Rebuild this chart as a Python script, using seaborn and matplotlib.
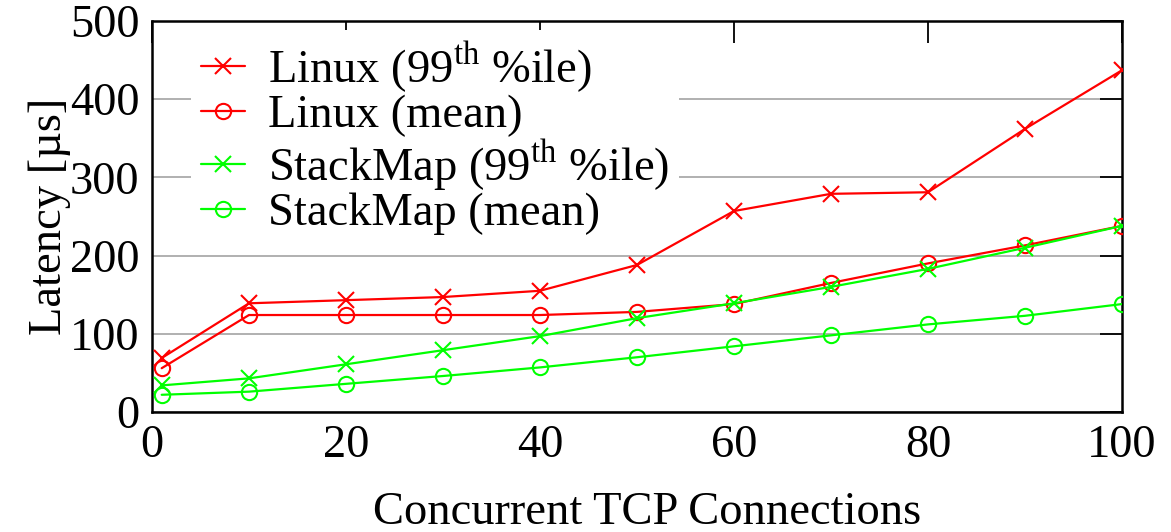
"""
Latency vs. concurrent TCP connections, Linux vs. StackMap.
"""

import matplotlib
matplotlib.use("Agg")
import matplotlib.pyplot as plt
import pandas as pd
import seaborn as sns

connections = [1, 10, 20, 30, 40, 50, 60, 70, 80, 90, 100]

linux_p99 = [69, 139, 143, 147, 155, 188, 257, 279, 281, 362, 437]
linux_mean = [56, 124, 124, 124, 124, 128, 138, 165, 190, 213, 238]
stackmap_p99 = [34, 43, 61, 79, 97, 120, 139, 160, 183, 210, 238]
stackmap_mean = [22, 26, 36, 46, 57, 70, 84, 98, 112, 123, 138]

series_labels = [
    r"Linux (99$^{\mathrm{th}}$ %ile)",
    "Linux (mean)",
    r"StackMap (99$^{\mathrm{th}}$ %ile)",
    "StackMap (mean)",
]
series_values = [linux_p99, linux_mean, stackmap_p99, stackmap_mean]
series_colors = ["#ff0000", "#ff0000", "#00ff00", "#00ff00"]
series_markers = ["x", "o", "x", "o"]

y_ticks = [0, 100, 200, 300, 400, 500]
x_ticks = [0, 20, 40, 60, 80, 100]

FONT_SIZE = 33.5


def main() -> None:
    sns.set_theme(style="white")
    plt.rcParams["font.family"] = ["Liberation Serif", "DejaVu Serif"]
    plt.rcParams["mathtext.fontset"] = "custom"
    plt.rcParams["mathtext.rm"] = "Liberation Serif"
    plt.rcParams["font.size"] = FONT_SIZE
    plt.rcParams["text.color"] = "black"
    plt.rcParams["axes.labelcolor"] = "black"

    fig = plt.figure(figsize=(11.71, 5.32), dpi=100)
    ax = fig.add_axes([0.1298, 0.2256, 0.8283, 0.7349])

    for label, values, color, marker in zip(
        series_labels, series_values, series_colors, series_markers
    ):
        df = pd.DataFrame({"x": connections, "y": values})
        sns.lineplot(
            data=df,
            x="x",
            y="y",
            ax=ax,
            color=color,
            marker=marker,
            markersize=11 if marker == "o" else 12,
            markerfacecolor="none",
            markeredgecolor=color,
            markeredgewidth=1.5,
            linewidth=1.6,
            label=label,
            zorder=3,
        )

    ax.set_xlim(0, 100)
    ax.set_ylim(0, 500)
    ax.set_xticks(x_ticks)
    ax.set_yticks(y_ticks)
    ax.tick_params(
        direction="in", length=16, width=1.3, colors="black",
        labelsize=FONT_SIZE, top=True, right=True, pad=9,
    )
    ax.yaxis.grid(True, color="#aaaaaa", linewidth=1.3)
    ax.set_axisbelow(True)
    for spine in ax.spines.values():
        spine.set_color("black")
        spine.set_linewidth(1.8)

    ax.set_xlabel("Concurrent TCP Connections", fontsize=FONT_SIZE)
    ax.xaxis.set_label_coords(0.5103, -0.204)
    ax.set_ylabel("Latency [µs]", fontsize=FONT_SIZE)
    ax.yaxis.set_label_coords(-0.083, 0.5)

    leg = ax.legend(
        loc="upper left",
        bbox_to_anchor=(0.031, 1.0),
        fontsize=FONT_SIZE,
        frameon=True,
        facecolor="white",
        edgecolor="none",
        framealpha=1,
        fancybox=False,
        handlelength=0.95,
        handletextpad=0.5,
        labelspacing=0.0,
        borderpad=0.2,
        borderaxespad=0.2,
    )
    # key box sits above the grid but under the data lines
    leg.set_zorder(2)

    fig.savefig("out.png", dpi=100)
    plt.close(fig)


if __name__ == "__main__":
    main()
